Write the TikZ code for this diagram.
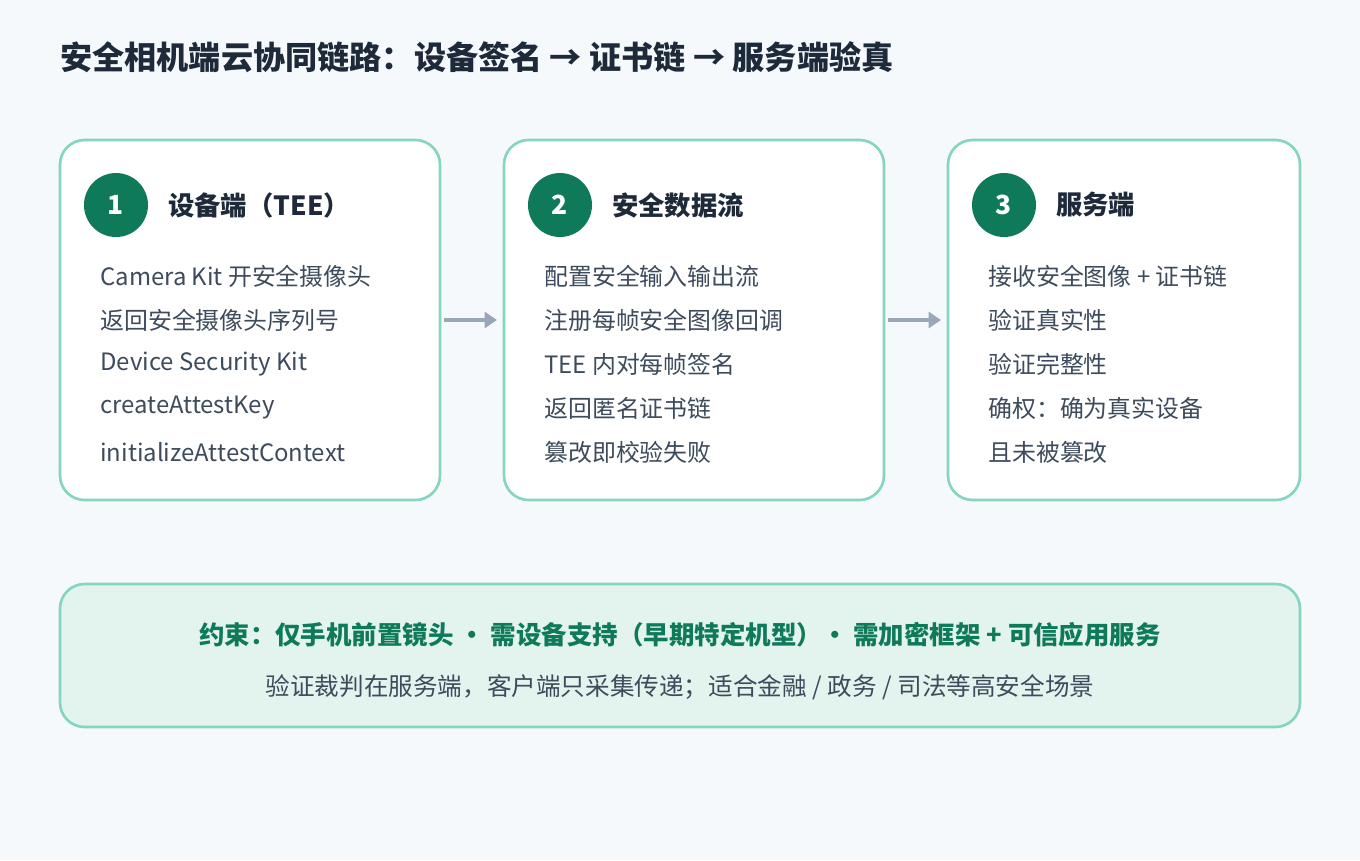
\documentclass[tikz,border=0pt]{standalone}
\usepackage{fontspec}
\usetikzlibrary{arrows.meta}
\setmainfont{Noto Sans CJK SC}
\definecolor{bg}{HTML}{F5F9FC}
\definecolor{bd}{HTML}{86D5BE}
\definecolor{dg}{HTML}{0F7A5A}
\definecolor{tt}{HTML}{1E2A3A}
\definecolor{tx}{HTML}{3D4B5C}
\definecolor{lg}{HTML}{E3F4EE}
\definecolor{ar}{HTML}{9AA7B8}
\begin{document}
\begin{tikzpicture}[x=0.02cm,y=-0.02cm,
  box/.style={draw=bd,line width=1.5pt,rounded corners=14pt,fill=white},
  num/.style={circle,fill=dg,minimum size=1.28cm,inner sep=0,text=white,font=\fontsize{15}{15}\selectfont\bfseries},
  head/.style={anchor=west,text=tt,font=\fontsize{15}{15}\selectfont\bfseries},
  line/.style={anchor=west,text=tx,font=\fontsize{13.6}{15}\selectfont},
  arr/.style={draw=ar,line width=2.5pt,-{Triangle[length=7pt,width=9pt]}}]
\fill[bg] (0,0) rectangle (1360,860);
\useasboundingbox (0,0) rectangle (1360,860);
\node[anchor=west,text=tt,font=\fontsize{18.3}{20}\selectfont\bfseries,inner sep=0] (title) at (60,57) {安全相机端云协同链路：设备签名 → 证书链 → 服务端验真};
\draw[box] (60,140) rectangle (440,500);
\draw[box] (504,140) rectangle (884,500);
\draw[box] (948,140) rectangle (1300,500);
\node[num] (n1) at (116,205) {1};
\node[head] (h1) at (162,205) {设备端（TEE）};
\node[num] (n2) at (560,205) {2};
\node[head] (h2) at (606,205) {安全数据流};
\node[num] (n3) at (1004,205) {3};
\node[head] (h3) at (1050,205) {服务端};
\node[line,inner sep=0] (a1) at (100,276) {Camera Kit 开安全摄像头};
\node[line,inner sep=0] (a2) at (100,320) {返回安全摄像头序列号};
\node[line,inner sep=0] (a3) at (100,364) {Device Security Kit};
\node[line,inner sep=0] (a4) at (100,408) {createAttestKey};
\node[line,inner sep=0] (a5) at (100,452) {initializeAttestContext};
\node[line,inner sep=0] (c1) at (544,276) {配置安全输入输出流};
\node[line,inner sep=0] (c2) at (544,320) {注册每帧安全图像回调};
\node[line,inner sep=0] (c3) at (544,364) {TEE 内对每帧签名};
\node[line,inner sep=0] (c4) at (544,408) {返回匿名证书链};
\node[line,inner sep=0] (c5) at (544,452) {篡改即校验失败};
\node[line,inner sep=0] (d1) at (988,276) {接收安全图像 + 证书链};
\node[line,inner sep=0] (d2) at (988,320) {验证真实性};
\node[line,inner sep=0] (d3) at (988,364) {验证完整性};
\node[line,inner sep=0] (d4) at (988,408) {确权：确为真实设备};
\node[line,inner sep=0] (d5) at (988,452) {且未被篡改};
\coordinate (p1) at (444,320); \coordinate (q1) at (497,320);
\coordinate (p2) at (888,320); \coordinate (q2) at (941,320);
\draw[arr] (p1) -- (q1);
\draw[arr] (p2) -- (q2);
\draw[box,fill=lg] (60,584) rectangle (1300,727);
\node[text=dg,font=\fontsize{14.5}{16}\selectfont\bfseries] (k1) at (680,635) {约束：仅手机前置镜头 · 需设备支持（早期特定机型）· 需加密框架 + 可信应用服务};
\node[text=tx,font=\fontsize{14}{15}\selectfont] (k2) at (680,687) {验证裁判在服务端，客户端只采集传递；适合金融 / 政务 / 司法等高安全场景};
\end{tikzpicture}
\end{document}
